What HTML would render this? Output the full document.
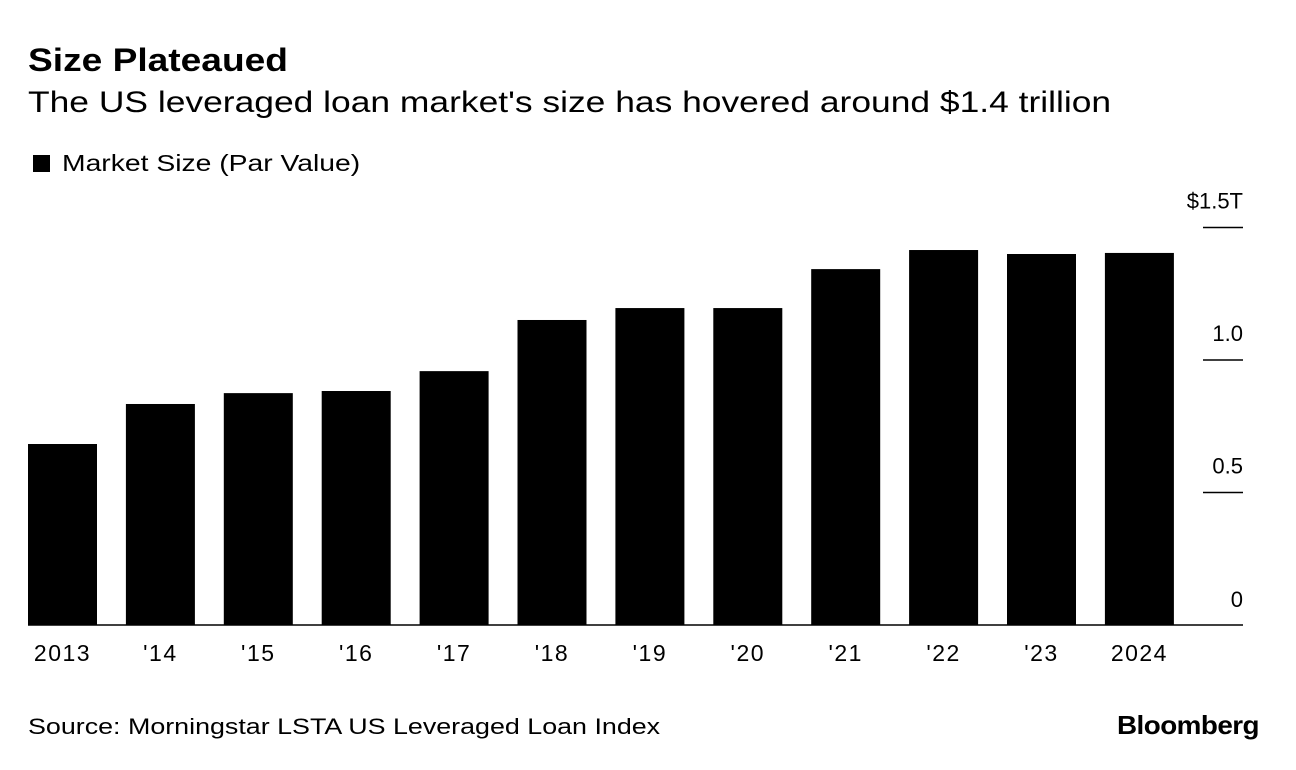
<!DOCTYPE html>
<html><head><meta charset="utf-8"><style>
body{margin:0;background:#fff;width:1296px;height:770px;overflow:hidden;font-family:"Liberation Sans",sans-serif;color:#000}
.t{position:absolute;white-space:nowrap;transform-origin:left top}
</style></head><body>
<div class="t" style="left:28px;top:42px;font-size:32px;font-weight:bold;transform:scaleX(1.16)">Size Plateaued</div>
<div class="t" style="left:28px;top:86px;font-size:30px;transform:scaleX(1.18)">The US leveraged loan market's size has hovered around $1.4 trillion</div>
<div class="t" style="left:33px;top:150px;font-size:23px"><span style="display:inline-block;width:17px;height:17px;background:#000;margin-right:12px;vertical-align:-1px"></span><span style="display:inline-block;transform:scaleX(1.23);transform-origin:left center">Market Size (Par Value)</span></div>
<svg id="c" width="1296" height="770" style="position:absolute;left:0;top:0"></svg>
<div class="t" style="left:28px;top:714px;font-size:22px;transform:scaleX(1.22)">Source: Morningstar LSTA US Leveraged Loan Index</div>
<div class="t" style="left:1117px;top:710px;font-size:26px;font-weight:bold;letter-spacing:-0.5px;transform:scaleX(1.07)">Bloomberg</div>
<script>
const categories=["2013","'14","'15","'16","'17","'18","'19","'20","'21","'22","'23","2024"];
const values=[0.683,0.834,0.875,0.883,0.958,1.151,1.196,1.196,1.343,1.415,1.40,1.404];
const ticks=[0,0.5,1.0,1.5];
const tickLabels=["0","0.5","1.0","$1.5T"];
const NS="http://www.w3.org/2000/svg";
const svg=document.getElementById('c');
const y0=625,pxPer=265;
const y=v=>y0-v*pxPer;
const x=i=>28+i*97.9;
const bw=69;
function mk(t,a){const e=document.createElementNS(NS,t);for(const k in a)e.setAttribute(k,a[k]);svg.appendChild(e);return e;}
values.forEach((v,i)=>{
 const r=mk('rect',{x:x(i),y:y(v),width:bw,height:y0-y(v),fill:'#000'});
 
 
 const t=mk('text',{x:x(i)+bw/2,y:661,'text-anchor':'middle','font-size':23,'letter-spacing':1.5,'font-family':'Liberation Sans'});
 t.textContent=categories[i];
 
 
});
ticks.forEach((v,i)=>{
 if(v>0){const l=mk('line',{x1:1203,x2:1243,y1:y(v),y2:y(v),stroke:'#000','stroke-width':1.5});
 
 }
 const t=mk('text',{x:1243,y:y(v)-(v>0?19:18),'text-anchor':'end','font-size':22,'font-family':'Liberation Sans'});
 t.textContent=tickLabels[i];
 
 
});
const b=mk('line',{x1:28,x2:1243,y1:y0,y2:y0,stroke:'#000','stroke-width':1.5});


</script>
</body></html>
